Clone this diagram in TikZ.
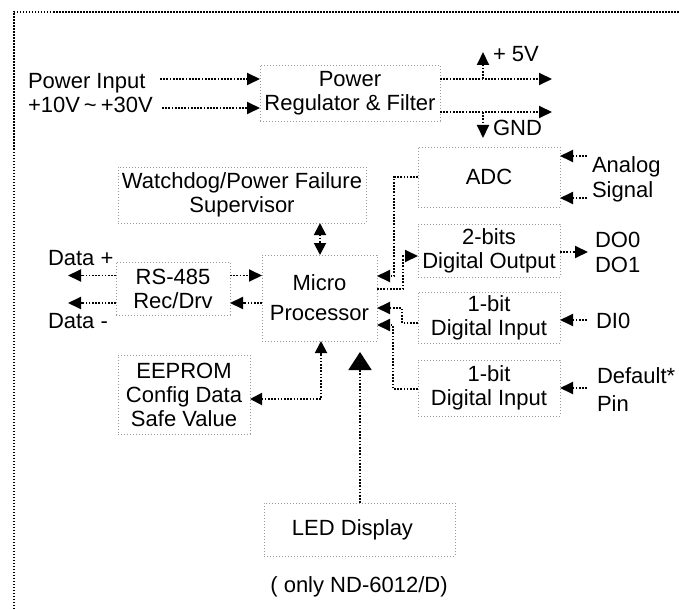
\documentclass[tikz,border=0pt]{standalone}
\usepackage{fontspec}
\setmainfont{Liberation Sans}
\usetikzlibrary{arrows.meta}
\begin{document}
\begin{tikzpicture}[x=1bp,y=-1bp,
  every node/.style={font=\fontsize{22bp}{24bp}\selectfont, inner sep=0pt, outer sep=0pt},
  blk/.style={draw=black!40, line width=0.9bp, dash pattern=on 0.9bp off 2.1bp, align=center},
  conn/.style={draw=black, line width=1.9bp, dash pattern=on 1.7bp off 1.5bp},
  frame/.style={draw=black, line width=2bp, dash pattern=on 1.5bp off 1.5bp},
  tip/.style={-{Triangle[length=13bp,width=12bp]}},
  tipboth/.style={{Triangle[length=12bp,width=12bp]}-{Triangle[length=12bp,width=12bp]}},
  bigtip/.style={-{Triangle[length=18bp,width=23bp]}},
  lbl/.style={anchor=base west}
]
\useasboundingbox (0,0) rectangle (679,609);
% outer frame (partial)
\draw[frame] (14,609) -- (14,12) -- (679,12);

% boxes
\node[blk, minimum width=180bp, minimum height=56bp] (reg) at (350,93) {Power\\Regulator \& Filter};
\node[blk, minimum width=142bp, minimum height=60bp] (adc) at (489,177) {ADC};
\node[blk, minimum width=142bp, minimum height=53bp] (do) at (489,250.5) {2-bits\\Digital Output};
\node[blk, minimum width=142bp, minimum height=51bp] (dia) at (489,317.5) {1-bit\\Digital Input};
\node[blk, minimum width=142bp, minimum height=56bp] (dib) at (489,388) {1-bit\\Digital Input};
\node[blk, minimum width=115bp, minimum height=86bp, font=\fontsize{22bp}{30bp}\selectfont] (mp) at (319.5,298) {Micro\\Processor};
\node[blk, minimum width=248bp, minimum height=56bp] (wd) at (242,195) {Watchdog/Power Failure\\Supervisor};
\node[blk, minimum width=114bp, minimum height=53bp] (rs) at (173,288.5) {RS-485\\Rec/Drv};
\node[blk, minimum width=132bp, minimum height=79bp] (ee) at (184,394.5) {EEPROM\\Config Data\\Safe Value};
\node[blk, minimum width=191bp, minimum height=53bp] (led) at (359.5,529.5) {\hspace*{-14bp}LED Display};

% labels
\node[lbl] (pin) at (28,89) {Power Input};
\node[lbl] (pv) at (28,113) {+10V\hspace{4bp}\textasciitilde\hspace{4bp}+30V};
\node[lbl] (v5l) at (493,62) {+ 5V};
\node[lbl] (gndl) at (493,136) {GND};
\node[lbl] (anl) at (592,173) {Analog};
\node[lbl] (sgl) at (592,198) {Signal};
\node[lbl] (do0) at (595,247) {DO0};
\node[lbl] (do1) at (595,272) {DO1};
\node[lbl] (di0l) at (596,328) {DI0};
\node[lbl] (dfl) at (597,383) {Default*};
\node[lbl] (pinl) at (597,411) {Pin};
\node[lbl] (dpl) at (48,265) {Data +};
\node[lbl] (dml) at (48,328) {Data -};
\node[anchor=base] (note) at (359,592) {( only ND-6012/D)};

% power connectors
\coordinate (pinS) at (160,79);
\coordinate (pvS) at (162,108);
\draw[conn,tip] (pinS) -- (pinS -| reg.west);
\draw[conn,tip] (pvS) -- (pvS -| reg.west);
\coordinate (v5) at (552,79);
\coordinate (gnd) at (552,112);
\draw[conn,tip] (v5 -| reg.east) -- (v5);
\draw[conn,tip] (gnd -| reg.east) -- (gnd);
\coordinate (v5b) at (483,79);
\coordinate (v5t) at (483,52);
\draw[conn,tip] (v5b) -- (v5t);
\coordinate (gb) at (483,112);
\coordinate (gt) at (483,138);
\draw[conn,tip] (gb) -- (gt);

% right side inputs/outputs
\coordinate (an1) at (587,156);
\coordinate (an2) at (587,198);
\draw[conn,tip] (an1) -- (an1 -| adc.east);
\draw[conn,tip] (an2) -- (an2 -| adc.east);
\coordinate (doo) at (588,252);
\draw[conn,tip] (doo -| do.east) -- (doo);
\coordinate (di0) at (587,320);
\draw[conn,tip] (di0) -- (di0 -| dia.east);
\coordinate (dfp) at (587,388);
\draw[conn,tip] (dfp) -- (dfp -| dib.east);

% RS-485
\coordinate (dp) at (68,275.5);
\coordinate (dm) at (68,303);
\draw[conn,tip] (dp -| rs.west) -- (dp);
\draw[conn,tip] (dm -| rs.west) -- (dm);
\coordinate (r1) at (0,275.5);
\coordinate (r2) at (0,303);
\draw[conn,tip] (r1 -| rs.east) -- (r1 -| mp.west);
\draw[conn,tip] (r2 -| mp.west) -- (r2 -| rs.east);

% watchdog
\coordinate (wdx) at (320,0);
\draw[conn,tipboth] (wdx |- wd.south) -- (wdx |- mp.north);

% EEPROM
\coordinate (eex) at (321,399);
\draw[conn,tipboth] (ee.east |- eex) -- (eex) -- (eex |- mp.south);

% LED
\coordinate (ledtip) at (360,352);
\draw[conn,bigtip] (led.north -| ledtip) -- (ledtip);

% processor right side
\coordinate (a1) at (394,177);
\coordinate (a2) at (394,276);
\draw[conn,tip] (adc.west |- a1) -- (a1) -- (a2) -- (a2 -| mp.east);
\coordinate (b1) at (403,289);
\coordinate (b2) at (403,256);
\draw[conn,tip] (b1 -| mp.east) -- (b1) -- (b2) -- (b2 -| do.west);
\coordinate (c1) at (402,323);
\coordinate (c2) at (402,308);
\draw[conn,tip] (dia.west |- c1) -- (c1) -- (c2) -- (c2 -| mp.east);
\coordinate (d1) at (393,389);
\coordinate (d2) at (393,325);
\draw[conn,tip] (dib.west |- d1) -- (d1) -- (d2) -- (d2 -| mp.east);
\end{tikzpicture}
\end{document}
